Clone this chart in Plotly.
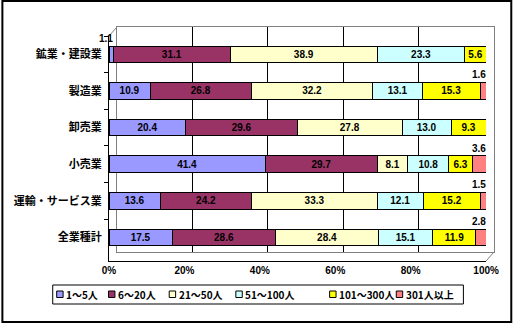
import plotly.graph_objects as go

# ---------------- data ----------------
categories = ["鉱業・建設業", "製造業", "卸売業", "小売業", "運輸・サービス業", "全業種計"]
series_names = ["1～5人", "6～20人", "21～50人", "51～100人", "101～300人", "301人以上"]
v_1_5 = [1.1, 10.9, 20.4, 41.4, 13.6, 17.5]
v_6_20 = [31.1, 26.8, 29.6, 29.7, 24.2, 28.6]
v_21_50 = [38.9, 32.2, 27.8, 8.1, 33.3, 28.4]
v_51_100 = [23.3, 13.1, 13.0, 10.8, 12.1, 15.1]
v_101_300 = [5.6, 15.3, 9.3, 6.3, 15.2, 11.9]
v_301 = [0.0, 1.6, 0.0, 3.6, 1.5, 2.8]
x_tickvals = [0, 20, 40, 60, 80, 100]
x_ticktext = ["0%", "20%", "40%", "60%", "80%", "100%"]

series_values = [v_1_5, v_6_20, v_21_50, v_51_100, v_101_300, v_301]
colors = ["#9999FF", "#993366", "#FFFFCC", "#CCFFFF", "#FFFF00", "#FF8080"]

# ---------------- geometry (px) ----------------
FIG_W, FIG_H = 519, 324
L, R, T, B = 109, 499, 27, 261          # paper area
PW, PH = R - L, B - T
DEPTH_X, DEPTH_Y = 8, 9                 # 3D wall offset


def px_x(p):
    return (p - L) / PW


def px_y(p):
    return (B - p) / PH


LABEL_FONT = dict(family="Liberation Sans, Arial", size=10, color="black", weight="bold")
CJK_FONT = dict(family="Noto Sans CJK JP", size=11, color="black", weight="bold")

fig = go.Figure()

# back wall (drawn first, under the bars)
fig.add_trace(go.Scatter(x=[None], y=[None], xaxis="x", yaxis="y",
                         showlegend=False, hoverinfo="skip"))

# stacked bars on the front axes
for name, vals, col in zip(series_names, series_values, colors):
    txt = [f"{v:.1f}" if v >= 5 else "" for v in vals]
    fig.add_trace(go.Bar(
        y=categories, x=vals, name=name, orientation="h",
        xaxis="x2", yaxis="y2",
        marker=dict(color=col, line=dict(color="black", width=1)),
        text=txt, textposition="inside", insidetextanchor="middle",
        textangle=0, textfont=LABEL_FONT, showlegend=False,
    ))

# labels of small segments, written above the bar
annotations = []
for i, cat in enumerate(categories):
    total = sum(s[i] for s in series_values)
    cum = 0.0
    for s in series_values:
        v = s[i]
        cum += v / total * 100
        if 0 < v < 5:
            annotations.append(dict(
                x=min(cum, 99.999), y=cat, xref="x2", yref="y2", text=f"{v:.1f}",
                showarrow=False, xanchor="right", yanchor="middle",
                yshift=16, xshift=2, font=LABEL_FONT))

# manual legend (frame, keys, texts)
shapes = []
shapes.append(dict(type="rect", xref="paper", yref="paper",
                   x0=px_x(52), x1=px_x(468), y0=px_y(304), y1=px_y(285),
                   line=dict(color="black", width=1), fillcolor="white", layer="above"))
legend_key_x = [56, 108.5, 170, 237.5, 332.5, 400]
for kx, name, col in zip(legend_key_x, series_names, colors):
    shapes.append(dict(type="rect", xref="paper", yref="paper",
                       x0=px_x(kx), x1=px_x(kx + 6.5), y0=px_y(297.5), y1=px_y(291),
                       line=dict(color="black", width=1), fillcolor=col, layer="above"))
    annotations.append(dict(x=px_x(kx + 7.5), y=px_y(294.5), xref="paper", yref="paper",
                            text=name, showarrow=False, xanchor="left", yanchor="middle",
                            font=dict(family="Noto Sans CJK JP", size=10, color="black",
                                      weight="bold")))

# outer frame
shapes.append(dict(type="rect", xref="paper", yref="paper",
                   x0=px_x(1), x1=px_x(516.5), y0=px_y(322), y1=px_y(1),
                   line=dict(color="black", width=2), fillcolor="rgba(0,0,0,0)", layer="below"))

# wall edges (3D look)
shapes.append(dict(type="line", xref="paper", yref="paper",
                   x0=px_x(R - DEPTH_X), y0=0, x1=1, y1=DEPTH_Y / PH,
                   line=dict(color="#808080", width=1)))
shapes.append(dict(type="line", xref="paper", yref="paper",
                   x0=0, y0=(PH - DEPTH_Y) / PH, x1=DEPTH_X / PW, y1=1,
                   line=dict(color="#808080", width=1)))

fig.update_layout(
    width=FIG_W, height=FIG_H,
    margin=dict(l=L, r=FIG_W - R, t=T, b=FIG_H - B, pad=0),
    paper_bgcolor="white", plot_bgcolor="rgba(0,0,0,0)",
    barmode="stack", barnorm="percent", bargap=0.55,
    showlegend=False,
    uniformtext=dict(minsize=10, mode="show"),
    xaxis=dict(domain=[DEPTH_X / PW, 1], range=[0, 100], tickvals=[20, 40, 60, 80],
               showticklabels=False, showgrid=True, gridcolor="black", gridwidth=1,
               showline=True, linecolor="#808080", linewidth=1, mirror=True,
               zeroline=False, ticks="", anchor="y", fixedrange=True),
    yaxis=dict(domain=[DEPTH_Y / PH, 1], range=[0, 1], showticklabels=False,
               showgrid=False, showline=True, linecolor="#808080", linewidth=1,
               mirror=True, zeroline=False, ticks="", anchor="x", fixedrange=True),
    xaxis2=dict(domain=[0, (PW - DEPTH_X) / PW], range=[0, 100], tickvals=x_tickvals,
                ticktext=x_ticktext, tickfont=LABEL_FONT, showgrid=False,
                showline=True, linecolor="black", linewidth=1, zeroline=False,
                ticks="", anchor="y2"),
    yaxis2=dict(domain=[0, (PH - DEPTH_Y) / PH], type="category",
                categoryorder="array", categoryarray=categories, autorange="reversed",
                tickfont=CJK_FONT, showgrid=False, showline=True, linecolor="black",
                linewidth=1, ticks="outside", tickson="boundaries", ticklen=4,
                tickcolor="black", ticklabelstandoff=4, anchor="x2"),
    shapes=shapes,
    annotations=annotations,
)

fig.write_html("out.html")
